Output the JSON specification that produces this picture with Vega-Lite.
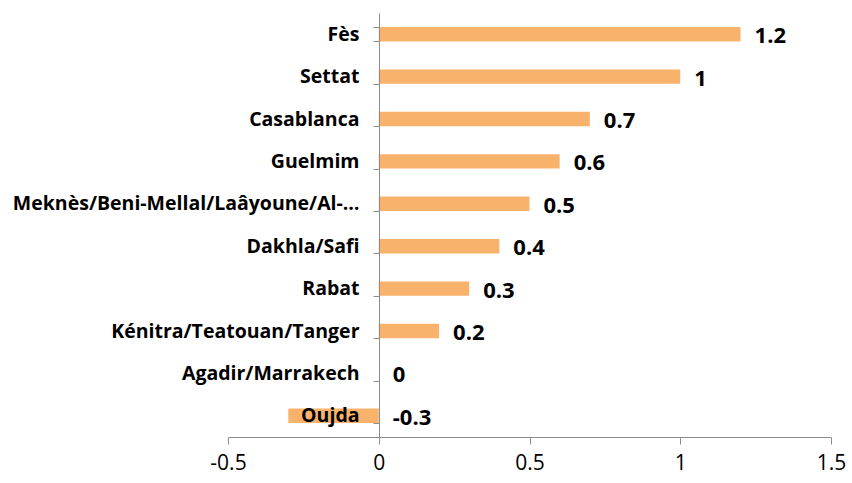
{
  "$schema": "https://vega.github.io/schema/vega-lite/v6.json",
  "width": 603,
  "height": 424,
  "autosize": {"type": "none"},
  "padding": {"left": 228, "top": 13, "right": 21, "bottom": 46},
  "background": "white",
  "config": {"view": {"stroke": null}, "font": "Open Sans"},
  "data": {
    "values": [
      {"region": "Fès", "value": 1.2},
      {"region": "Settat", "value": 1},
      {"region": "Casablanca", "value": 0.7},
      {"region": "Guelmim", "value": 0.6},
      {"region": "Meknès/Beni-Mellal/Laâyoune/Al-…", "value": 0.5},
      {"region": "Dakhla/Safi", "value": 0.4},
      {"region": "Rabat", "value": 0.3},
      {"region": "Kénitra/Teatouan/Tanger", "value": 0.2},
      {"region": "Agadir/Marrakech", "value": 0},
      {"region": "Oujda", "value": -0.3}
    ]
  },
  "transform": [{"calculate": "max(datum.value, 0)", "as": "labelPos"}],
  "encoding": {
    "y": {
      "field": "region",
      "type": "nominal",
      "sort": null,
      "scale": {"paddingInner": 0.66, "paddingOuter": 0.33},
      "axis": {
        "title": null,
        "orient": "left",
        "offset": -151,
        "zindex": 1,
        "tickBand": "extent",
        "tickSize": 6,
        "tickColor": "#8c8c8c",
        "domainColor": "#8c8c8c",
        "labelFontWeight": "bold",
        "labelFontSize": 19.5,
        "labelColor": "#000000",
        "labelPadding": 14,
        "labelLimit": 0
      }
    }
  },
  "layer": [
    {
      "mark": {"type": "bar", "color": "#F9B26B"},
      "encoding": {
        "x": {
          "field": "value",
          "type": "quantitative",
          "scale": {"domain": [-0.5, 1.5], "nice": false},
          "axis": {
            "title": null,
            "values": [-0.5, 0, 0.5, 1, 1.5],
            "labelExpr": "toString(datum.value)",
            "grid": false,
            "tickSize": 7,
            "tickColor": "#8c8c8c",
            "domainColor": "#8c8c8c",
            "labelFontSize": 21,
            "labelColor": "#000000",
            "labelPadding": 8,
            "labelFlush": false
          }
        }
      }
    },
    {
      "mark": {"type": "text", "align": "left", "baseline": "middle", "dx": 14, "dy": 2, "fontWeight": "bold", "fontSize": 22, "color": "#000000"},
      "encoding": {
        "x": {"field": "labelPos", "type": "quantitative"},
        "text": {"field": "value", "type": "nominal"}
      }
    }
  ]
}
